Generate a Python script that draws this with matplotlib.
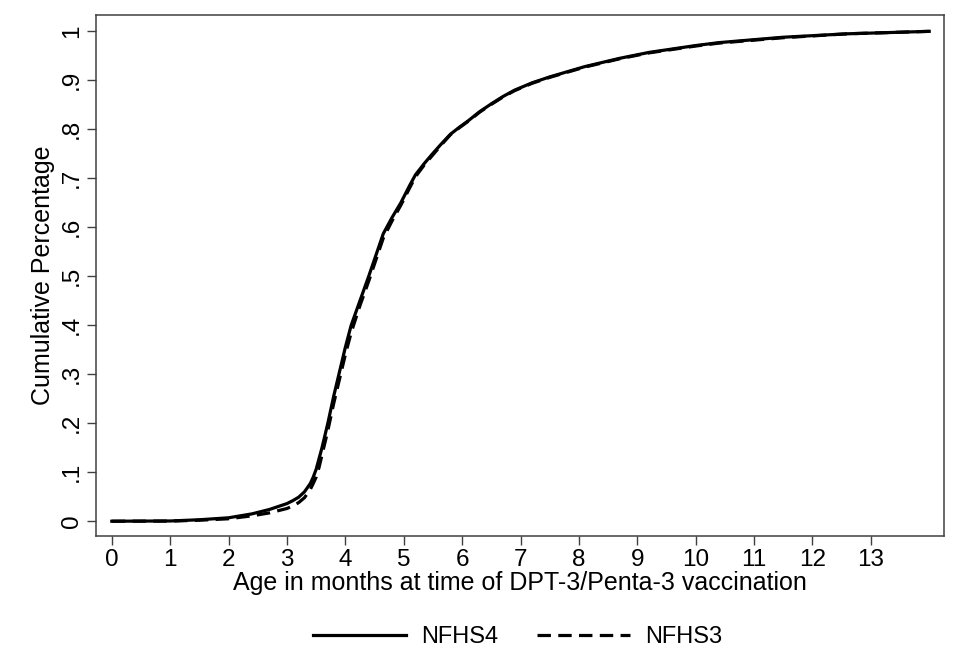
import matplotlib
matplotlib.use("Agg")
import matplotlib.pyplot as plt

plt.rcParams['font.family'] = ['Liberation Sans', 'DejaVu Sans']

# Age in months and cumulative share vaccinated
age_nfhs4 = [0, 1, 1.5, 2, 2.4, 2.7, 3.0, 3.1, 3.2, 3.3, 3.4, 3.45, 3.5, 3.55,
             3.6, 3.7, 3.8, 3.9, 4.0, 4.1, 4.25, 4.4, 4.65, 4.8, 4.95, 5.1, 5.2,
             5.35, 5.5, 5.65, 5.8, 5.95, 6.1, 6.3, 6.5, 6.7, 6.9, 7.2, 7.5, 8.1,
             8.7, 9.2, 10.0, 10.4, 11.5, 12.6, 14.0]
cum_nfhs4 = [0, 0.0005, 0.003, 0.007, 0.015, 0.024, 0.036, 0.042, 0.049, 0.06,
             0.077, 0.09, 0.106, 0.128, 0.15, 0.2, 0.255, 0.305, 0.355, 0.40,
             0.45, 0.50, 0.587, 0.62, 0.65, 0.685, 0.707, 0.73, 0.751, 0.771,
             0.79, 0.804, 0.817, 0.836, 0.852, 0.867, 0.88, 0.895, 0.907, 0.928,
             0.945, 0.957, 0.971, 0.977, 0.988, 0.995, 1.0]

age_nfhs3 = [0, 1, 1.5, 2, 2.4, 2.7, 3.0, 3.1, 3.2, 3.3, 3.4, 3.45, 3.5, 3.55,
             3.6, 3.7, 3.8, 3.9, 4.0, 4.1, 4.25, 4.4, 4.65, 4.8, 4.95, 5.1, 5.2,
             5.35, 5.5, 5.65, 5.8, 5.95, 6.1, 6.3, 6.5, 6.7, 6.9, 7.2, 7.5, 8.1,
             8.7, 9.2, 10.0, 10.4, 11.5, 12.6, 14.0]
cum_nfhs3 = [0, 0.0003, 0.002, 0.005, 0.011, 0.017, 0.026, 0.031, 0.038, 0.048,
             0.065, 0.077, 0.09, 0.11, 0.135, 0.185, 0.24, 0.29, 0.34, 0.385,
             0.44, 0.49, 0.578, 0.613, 0.645, 0.68, 0.703, 0.727, 0.748, 0.769,
             0.789, 0.803, 0.816, 0.835, 0.851, 0.866, 0.879, 0.894, 0.906,
             0.927, 0.944, 0.956, 0.97, 0.976, 0.987, 0.995, 1.0]

x_ticks = list(range(0, 14))
y_ticks = [0, 0.1, 0.2, 0.3, 0.4, 0.5, 0.6, 0.7, 0.8, 0.9, 1.0]
y_tick_labels = ["0", ".1", ".2", ".3", ".4", ".5", ".6", ".7", ".8", ".9", "1"]

fig = plt.figure(figsize=(9.7, 6.6), dpi=100)
ax = fig.add_axes([0.099, 0.188, 0.874, 0.789])

ax.plot(age_nfhs4, cum_nfhs4, color='black', lw=2.3, label='NFHS4',
        solid_joinstyle='round')
ax.plot(age_nfhs3, cum_nfhs3, color='black', lw=2.3, label='NFHS3',
        dashes=(4.2, 2.3))

ax.set_xlim(-0.27, 14.25)
ax.set_ylim(-0.03, 1.033)
ax.set_xticks(x_ticks)
ax.set_xticklabels([str(t) for t in x_ticks])
ax.set_yticks(y_ticks)
ax.set_yticklabels(y_tick_labels, rotation=90, va='center')

for s in ax.spines.values():
    s.set_color('#404040')
    s.set_linewidth(1.1)
ax.tick_params(axis='both', direction='out', length=6.5, width=1.0,
               color='#404040', labelsize=17.5, pad=3)

ax.set_xlabel("Age in months at time of DPT-3/Penta-3 vaccination",
              fontsize=18, labelpad=0)
ax.set_ylabel("Cumulative Percentage", fontsize=18, labelpad=4)

fig.legend(loc='center', bbox_to_anchor=(0.5335, 0.035), ncol=2, frameon=False,
           fontsize=17, handlelength=3.94, columnspacing=1.65, handletextpad=0.64)

fig.savefig("out.png", dpi=100, facecolor='white')
